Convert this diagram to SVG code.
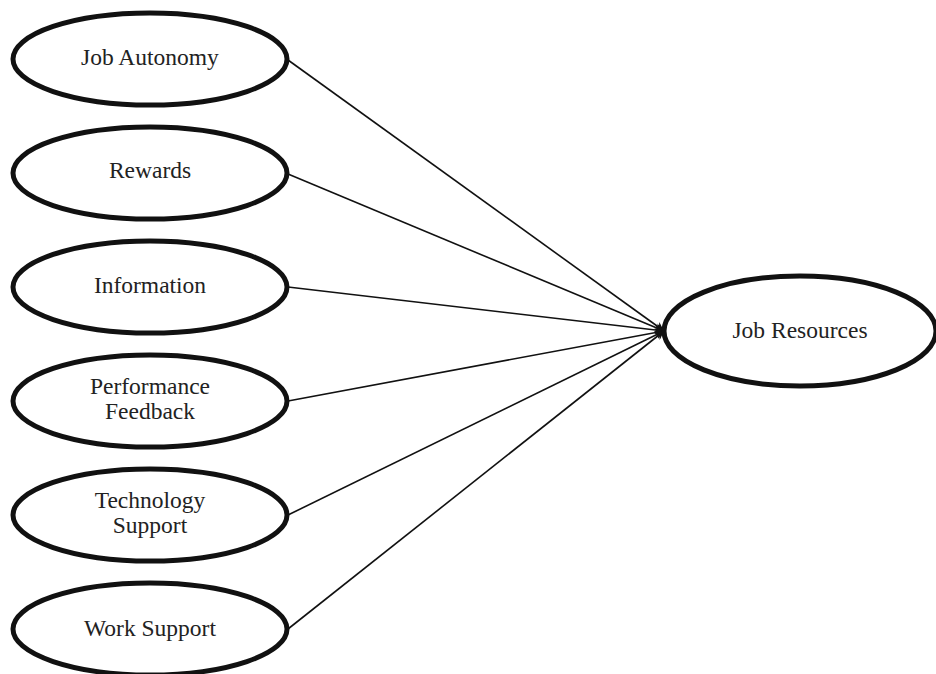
<svg xmlns="http://www.w3.org/2000/svg" width="936" height="674" viewBox="0 0 936 674">
<style>
.n ellipse{fill:#fff;stroke:#111;stroke-width:5}
.n text{font-family:"Liberation Serif","Times New Roman",serif;font-size:23.5px;fill:#222;text-anchor:middle}
.c line{stroke:#111;stroke-width:1.6;marker-end:url(#a)}
</style>
<defs>
<marker id="a" viewBox="0 0 10 10" refX="10" refY="5" markerWidth="9" markerHeight="9" markerUnits="userSpaceOnUse" orient="auto">
<path d="M0,0 L10,5 L0,10 L3,5 z" fill="#111"/>
</marker>
</defs>
<rect width="936" height="674" fill="#fff"/>
<g class="c">
<line x1="288" y1="60" x2="664" y2="331"/>
<line x1="288" y1="174" x2="664" y2="331"/>
<line x1="288" y1="287" x2="664" y2="331"/>
<line x1="288" y1="401" x2="664" y2="331"/>
<line x1="288" y1="515" x2="664" y2="331"/>
<line x1="288" y1="629" x2="664" y2="331"/>
</g>
<g id="n1" class="n"><ellipse cx="150" cy="59" rx="137" ry="46"/><text x="150" y="65">Job Autonomy</text></g>
<g id="n2" class="n"><ellipse cx="150" cy="173" rx="137" ry="46"/><text x="150" y="178">Rewards</text></g>
<g id="n3" class="n"><ellipse cx="150" cy="287" rx="137" ry="46"/><text x="150" y="293">Information</text></g>
<g id="n4" class="n"><ellipse cx="150" cy="401" rx="137" ry="46"/><text x="150" y="394">Performance</text><text x="150" y="419">Feedback</text></g>
<g id="n5" class="n"><ellipse cx="150" cy="515" rx="137" ry="46"/><text x="150" y="508">Technology</text><text x="150" y="533">Support</text></g>
<g id="n6" class="n"><ellipse cx="150" cy="629" rx="137" ry="46"/><text x="150" y="636">Work Support</text></g>
<g id="n7" class="n"><ellipse cx="800" cy="331" rx="136" ry="55"/><text x="800" y="338">Job Resources</text></g>
</svg>
